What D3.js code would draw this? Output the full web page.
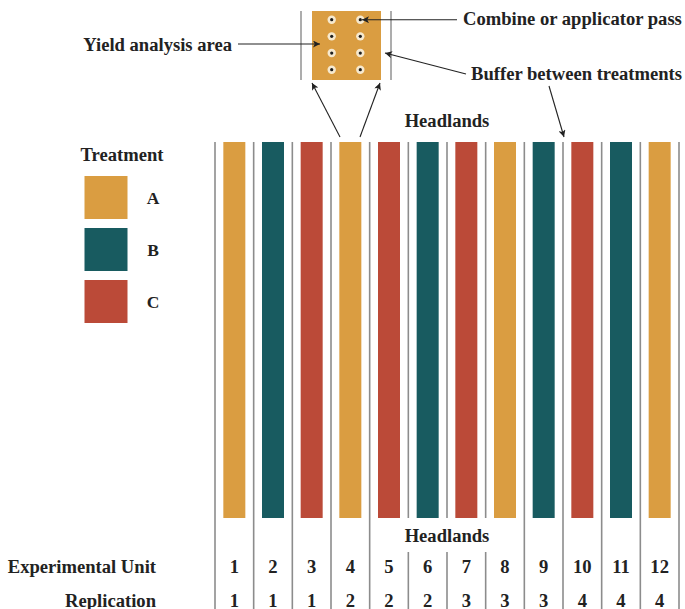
<!DOCTYPE html>
<html>
<head>
<meta charset="utf-8">
<script src="https://cdn.jsdelivr.net/npm/d3@7"></script>
<style>
  html, body { margin: 0; padding: 0; background: #fff; }
  svg text { font-family: "Liberation Serif", "Times New Roman", serif; font-weight: bold; fill: #222; }
</style>
</head>
<body>
<svg id="chart" width="685" height="609"></svg>
<script>
// ---- data ----
const units = [1, 2, 3, 4, 5, 6, 7, 8, 9, 10, 11, 12];
const treatments = ["A", "B", "C", "A", "C", "B", "C", "A", "B", "C", "B", "A"];
const replications = [1, 1, 1, 2, 2, 2, 3, 3, 3, 4, 4, 4];
const treatmentNames = ["A", "B", "C"];
const treatmentColors = ["#DA9D41", "#185B60", "#BB4A38"];
const passColumns = [1, 2];
const passRows = [1, 2, 3, 4];
const rowLabels = ["Experimental Unit", "Replication"];
const headlandLabel = "Headlands";
const legendTitle = "Treatment";
const calloutLabels = ["Yield analysis area", "Combine or applicator pass", "Buffer between treatments"];

// ---- setup ----
const svg = d3.select("#chart");
const color = d3.scaleOrdinal().domain(treatmentNames).range(treatmentColors);
const ink = "#222";
const rule = "#8c8c8c";
const fs = 18.6;

const defs = svg.append("defs");
defs.append("marker")
  .attr("id", "arrow")
  .attr("viewBox", "0 0 10 10")
  .attr("refX", 10).attr("refY", 5)
  .attr("markerWidth", 8).attr("markerHeight", 7)
  .attr("markerUnits", "userSpaceOnUse")
  .attr("orient", "auto")
  .append("path").attr("d", "M0,0 L10,5 L0,10 L2.5,5 Z").attr("fill", ink);

// field scales
const x = d3.scaleBand().domain(units).range([215, 679]).paddingInner(0.431).paddingOuter(0.2155);
const xEdge = d3.scaleLinear().domain([0, units.length]).range([215, 679]);
const fieldTop = 142, fieldBottom = 518, bottom = 609;
const gapTop = 518, gapBottom = 552;

// vertical separators
const edges = d3.range(units.length + 1);
const sep = svg.append("g").attr("stroke", rule).attr("stroke-width", 1.6);
edges.forEach(i => {
  const xv = xEdge(i);
  if (i >= 5 && i <= 7) {
    sep.append("line").attr("x1", xv).attr("x2", xv).attr("y1", fieldTop).attr("y2", gapTop);
    sep.append("line").attr("x1", xv).attr("x2", xv).attr("y1", gapBottom).attr("y2", bottom);
  } else {
    sep.append("line").attr("x1", xv).attr("x2", xv).attr("y1", fieldTop).attr("y2", bottom);
  }
});

// bars
svg.append("g").selectAll("rect").data(units).join("rect")
  .attr("x", d => x(d))
  .attr("y", fieldTop)
  .attr("width", x.bandwidth())
  .attr("height", fieldBottom - fieldTop)
  .attr("fill", (d, i) => color(treatments[i]));

// headlands labels
svg.append("text").attr("x", xEdge(6)).attr("y", 120).attr("text-anchor", "middle")
  .attr("dominant-baseline", "central").attr("font-size", fs).text(headlandLabel);
svg.append("text").attr("x", xEdge(6)).attr("y", 535).attr("text-anchor", "middle")
  .attr("dominant-baseline", "central").attr("font-size", fs).text(headlandLabel);

// row numbers
const rowY = [566, 600];
svg.append("g").selectAll("text").data(units).join("text")
  .attr("x", d => x(d) + x.bandwidth() / 2).attr("y", rowY[0])
  .attr("text-anchor", "middle").attr("dominant-baseline", "central").attr("font-size", fs)
  .text(d => d);
svg.append("g").selectAll("text").data(units).join("text")
  .attr("x", d => x(d) + x.bandwidth() / 2).attr("y", rowY[1])
  .attr("text-anchor", "middle").attr("dominant-baseline", "central").attr("font-size", fs)
  .text((d, i) => replications[i]);
svg.append("g").selectAll("text").data(rowLabels).join("text")
  .attr("x", 156).attr("y", (d, i) => rowY[i])
  .attr("text-anchor", "end").attr("dominant-baseline", "central").attr("font-size", fs)
  .text(d => d);

// legend
const ly = d3.scaleBand().domain(treatmentNames).range([176, 323]).paddingInner(1 - 43 / 52).paddingOuter(0);
const lg = svg.append("g");
lg.append("text").attr("x", 122).attr("y", 154).attr("text-anchor", "middle")
  .attr("dominant-baseline", "central").attr("font-size", fs).text(legendTitle);
const lgItems = lg.selectAll("g").data(treatmentNames).join("g");
lgItems.append("rect").attr("x", 84.5).attr("y", d => ly(d)).attr("width", 43).attr("height", ly.bandwidth())
  .attr("fill", d => color(d));
lgItems.append("text").attr("x", 153).attr("y", d => ly(d) + ly.bandwidth() / 2).attr("text-anchor", "middle")
  .attr("dominant-baseline", "central").attr("font-size", 17.5).text(d => d);

// inset: yield analysis area
const inset = svg.append("g");
const insetX0 = 312, insetX1 = 381, insetY0 = 11, insetY1 = 80;
inset.append("line").attr("x1", 301).attr("x2", 301).attr("y1", insetY0).attr("y2", insetY1)
  .attr("stroke", "#999").attr("stroke-width", 1.6);
inset.append("line").attr("x1", 391).attr("x2", 391).attr("y1", insetY0).attr("y2", insetY1)
  .attr("stroke", "#999").attr("stroke-width", 1.6);
inset.append("rect").attr("x", insetX0).attr("y", insetY0).attr("width", insetX1 - insetX0)
  .attr("height", insetY1 - insetY0).attr("fill", color("A"));
const px = d3.scalePoint().domain(passColumns).range([331.7, 360.3]);
const py = d3.scalePoint().domain(passRows).range([19.7, 69.7]);
passColumns.forEach(c => passRows.forEach(r => {
  inset.append("circle").attr("cx", px(c)).attr("cy", py(r)).attr("r", 4.2).attr("fill", "#F6E9CF");
  inset.append("circle").attr("cx", px(c)).attr("cy", py(r)).attr("r", 1.6).attr("fill", "#1e1e1e");
}));

// callouts
const callouts = svg.append("g");
callouts.append("text").attr("x", 232).attr("y", 44).attr("text-anchor", "end")
  .attr("dominant-baseline", "central").attr("font-size", fs).text(calloutLabels[0]);
callouts.append("text").attr("x", 463).attr("y", 18).attr("text-anchor", "start")
  .attr("dominant-baseline", "central").attr("font-size", fs).text(calloutLabels[1]);
callouts.append("text").attr("x", 471).attr("y", 73).attr("text-anchor", "start")
  .attr("dominant-baseline", "central").attr("font-size", fs).text(calloutLabels[2]);

const arrows = [
  [238, 44, 320, 44],
  [457, 19.7, 362, 19.7],
  [466, 74, 385, 53],
  [549, 86, 564, 137],
  [340, 137, 312, 83],
  [360, 137, 380, 83]
];
callouts.selectAll("line").data(arrows).join("line")
  .attr("x1", d => d[0]).attr("y1", d => d[1]).attr("x2", d => d[2]).attr("y2", d => d[3])
  .attr("stroke", ink).attr("stroke-width", 1.1).attr("marker-end", "url(#arrow)");
</script>
</body>
</html>
